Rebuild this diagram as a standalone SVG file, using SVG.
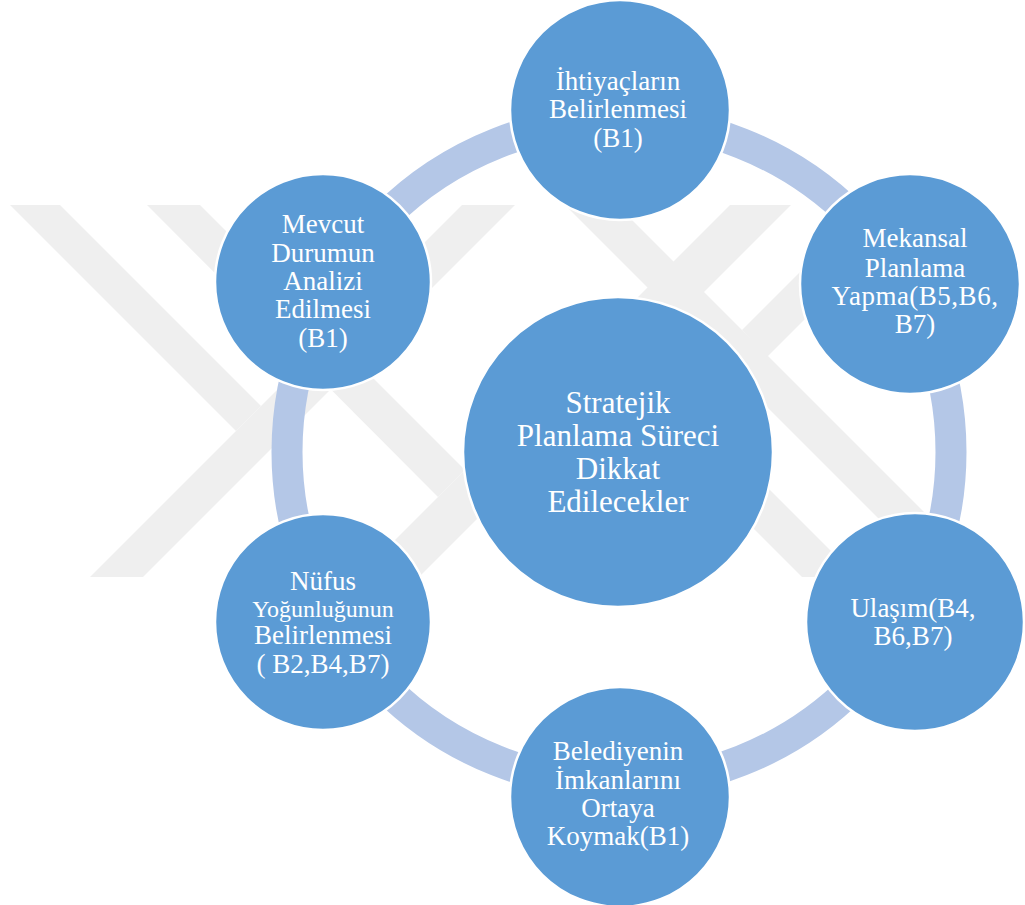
<svg xmlns="http://www.w3.org/2000/svg" width="1025" height="905" viewBox="0 0 1025 905">
  <style>
    .mark { fill: #efefef; }
    .ring { fill: none; stroke: #b4c7e7; stroke-width: 31; }
    .node { fill: #5b9bd5; stroke: #ffffff; stroke-width: 2.5; }
    .lbl { font-family: "Liberation Serif", "Times New Roman", serif; fill: #ffffff; text-anchor: middle; font-size: 27px; }
    .sm { font-size: 24px; }
    .ctr { font-size: 31px; }
  </style>
  <rect width="1025" height="905" fill="#ffffff"/>

  <!-- faint background emblem made of diagonal bars -->
  <g id="emblem">
    <polygon class="mark" points="90,577 143,577 515,205 462,205"/>
    <polygon class="mark" points="10,205 60,205 261,406 236,431"/>
    <polygon class="mark" points="147,205 200,205 465,470 438,497"/>
    <polygon class="mark" points="730,205 791,205 419,577 358,577"/>
    <polygon class="mark" points="565,205 617,205 989,577 937,577"/>
    <polygon class="mark" points="867,205 919,205 767,357 742,330"/>
    <polygon class="mark" points="610,385 638,358 857,577 802,577"/>
  </g>

  <!-- cycle connector -->
  <g id="connectors">
    <circle class="ring" cx="619" cy="452" r="332"/>
  </g>

  <g id="center">
    <circle class="node" cx="618" cy="452" r="155"/>
    <text class="lbl ctr" x="618" y="413">Stratejik</text>
    <text class="lbl ctr" x="618" y="446">Planlama Süreci</text>
    <text class="lbl ctr" x="618" y="479">Dikkat</text>
    <text class="lbl ctr" x="618" y="512">Edilecekler</text>
  </g>

  <g id="n-ihtiyac">
    <circle class="node" cx="620" cy="110" r="110"/>
    <text class="lbl" x="618" y="90">İhtiyaçların</text>
    <text class="lbl" x="618" y="118">Belirlenmesi</text>
    <text class="lbl" x="618" y="147">(B1)</text>
  </g>

  <g id="n-mekansal">
    <circle class="node" cx="910" cy="284" r="110"/>
    <text class="lbl" x="915" y="247">Mekansal</text>
    <text class="lbl" x="915" y="277">Planlama</text>
    <text class="lbl" x="915" y="305" font-size="25" letter-spacing="0.5">Yapma(B5,B6,</text>
    <text class="lbl" x="915" y="333">B7)</text>
  </g>

  <g id="n-ulasim">
    <circle class="node" cx="915" cy="622" r="109"/>
    <text class="lbl" x="913" y="617">Ulaşım(B4,</text>
    <text class="lbl" x="913" y="645">B6,B7)</text>
  </g>

  <g id="n-belediye">
    <circle class="node" cx="620" cy="797" r="110"/>
    <text class="lbl" x="618" y="760">Belediyenin</text>
    <text class="lbl" x="618" y="789">İmkanlarını</text>
    <text class="lbl" x="618" y="817">Ortaya</text>
    <text class="lbl" x="618" y="845" font-size="26">Koymak(B1)</text>
  </g>

  <g id="n-nufus">
    <circle class="node" cx="323" cy="622" r="108"/>
    <text class="lbl" x="323" y="590">Nüfus</text>
    <text class="lbl sm" x="323" y="617">Yoğunluğunun</text>
    <text class="lbl" x="323" y="644">Belirlenmesi</text>
    <text class="lbl" x="323" y="673">( B2,B4,B7)</text>
  </g>

  <g id="n-mevcut">
    <circle class="node" cx="323" cy="282" r="108"/>
    <text class="lbl" x="323" y="233">Mevcut</text>
    <text class="lbl" x="323" y="262">Durumun</text>
    <text class="lbl" x="323" y="290">Analizi</text>
    <text class="lbl" x="323" y="318">Edilmesi</text>
    <text class="lbl" x="323" y="347">(B1)</text>
  </g>
</svg>
